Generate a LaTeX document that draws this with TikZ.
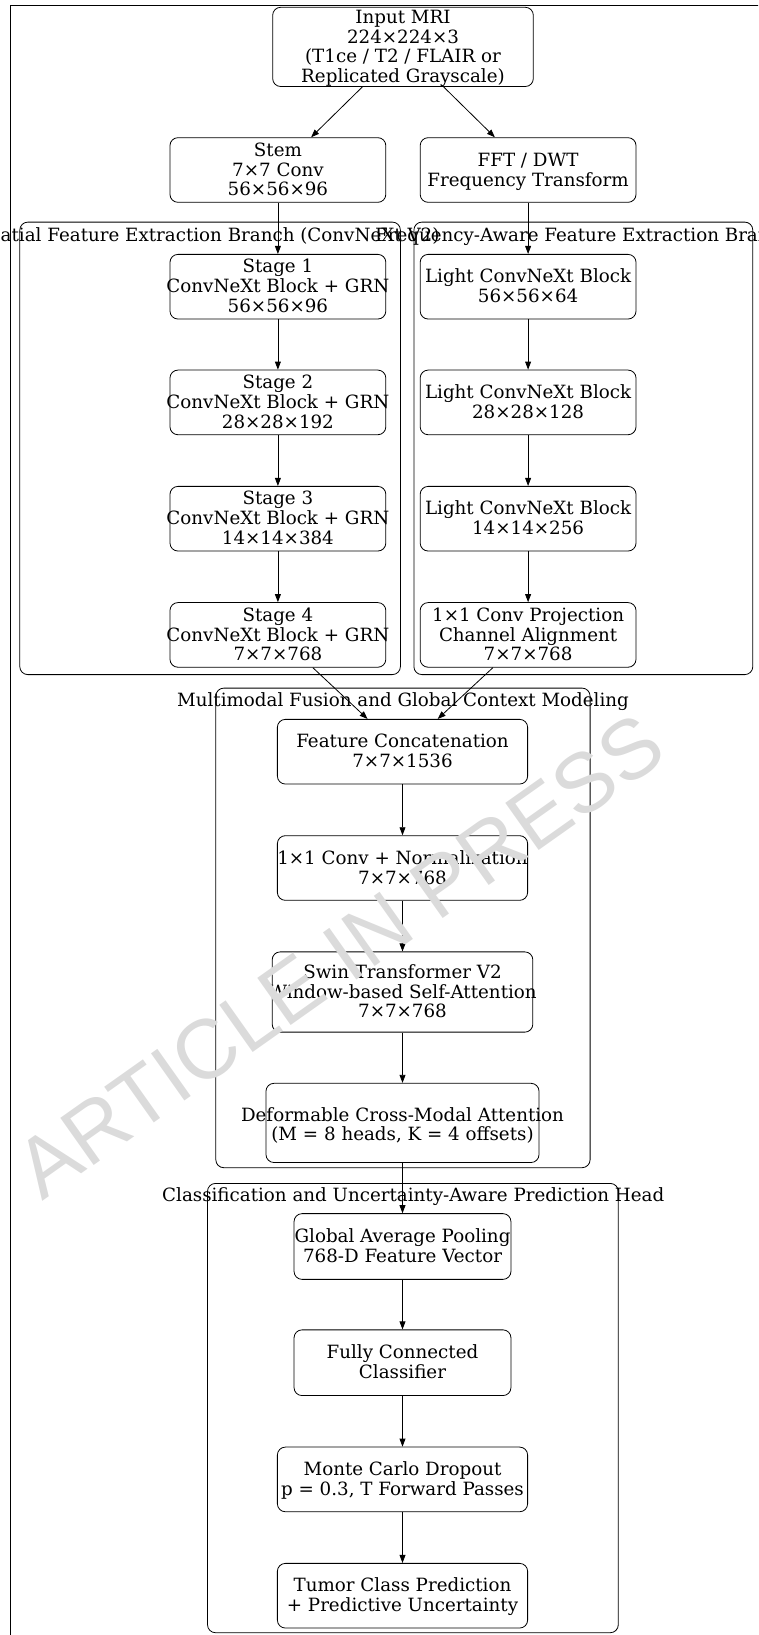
\documentclass[tikz,border=0pt]{standalone}
\usepackage{fontspec}
\setmainfont{DejaVu Serif}
\newfontfamily\markfont{Liberation Sans}
\usetikzlibrary{arrows.meta}
\newcommand{\boxtext}[1]{\makebox[0pt]{\raisebox{-1.6pt}[\height][\depth]{\begin{tabular}{@{}c@{}}#1\end{tabular}}}}

\begin{document}
\begin{tikzpicture}[x=0.75pt, y=-0.75pt,
  font=\fontsize{13.7}{14.85}\selectfont,
  blk/.style={draw, line width=0.6pt, rounded corners=6pt, inner sep=0pt,
              minimum width=#1, minimum height=48.5pt},
  blk/.default=161.9pt,
  cluster/.style={draw, line width=0.6pt, rounded corners=6pt},
  arr/.style={-{Triangle[length=6pt,width=4.4pt]}, line width=0.6pt}]
  \useasboundingbox (0,0) rectangle (758,1635);
  \clip (0,0) rectangle (758,1635);

  % Cadre
  \draw[line width=0.6pt] (10.4,1640) -- (10.4,5.2) -- (760,5.2);

  % Groupes
  \draw[cluster] (19.8,222.1) rectangle (400.4,674.6);
  \draw[cluster] (413.9,222.1) rectangle (752.8,674.6);
  \draw[cluster] (215.8,688.1) rectangle (590.1,1167.7);
  \draw[cluster] (207.5,1183.4) rectangle (618.3,1632.7);
  \node (spatiallbl) at (208,236.6) {Spatial Feature Extraction Branch (ConvNeXt V2)};
  \node (freqlbl) at (583.4,236.6) {Frequency-Aware Feature Extraction Branch};
  \node (fusionlbl) at (403,701.6) {Multimodal Fusion and Global Context Modeling};
  \node (headlbl) at (413.2,1196.8) {Classification and Uncertainty-Aware Prediction Head};

  % Entrée
  \node[blk=195.5pt, minimum height=59.4pt] (input) at (403,46.9)
      {\boxtext{Input MRI\\224×224×3\\(T1ce / T2 / FLAIR or\\Replicated Grayscale)}};
  \node[blk] (stem) at (277.9,170) {\boxtext{Stem\\7×7 Conv\\56×56×96}};
  \node[blk] (fft) at (528.1,170) {\boxtext{FFT / DWT\\Frequency Transform}};

  % Branche spatiale
  \node[blk] (st1) at (277.9,286.7) {\boxtext{Stage 1\\ConvNeXt Block + GRN\\56×56×96}};
  \node[blk] (st2) at (277.9,402.4) {\boxtext{Stage 2\\ConvNeXt Block + GRN\\28×28×192}};
  \node[blk] (st3) at (277.9,518.7) {\boxtext{Stage 3\\ConvNeXt Block + GRN\\14×14×384}};
  \node[blk] (st4) at (277.9,634.9) {\boxtext{Stage 4\\ConvNeXt Block + GRN\\7×7×768}};

  % Branche fréquentielle
  \node[blk] (lt1) at (528.1,286.7) {\boxtext{Light ConvNeXt Block\\56×56×64}};
  \node[blk] (lt2) at (528.1,402.4) {\boxtext{Light ConvNeXt Block\\28×28×128}};
  \node[blk] (lt3) at (528.1,518.7) {\boxtext{Light ConvNeXt Block\\14×14×256}};
  \node[blk] (proj) at (528.1,634.9)
      {\boxtext{1×1 Conv Projection\\Channel Alignment\\7×7×768}};

  % Fusion
  \node[blk=187.7pt] (concat) at (402.5,751.7) {\boxtext{Feature Concatenation\\7×7×1536}};
  \node[blk=187.7pt] (convn) at (402.5,868) {\boxtext{1×1 Conv + Normalization\\7×7×768}};
  \node[blk=195.5pt, minimum height=60.2pt] (swin) at (402.5,992)
      {\boxtext{Swin Transformer V2\\Window-based Self-Attention\\7×7×768}};
  \node[blk=204.8pt, minimum height=59.4pt] (deform) at (402.5,1122.9)
      {\raisebox{-1.5pt}[\height][\depth]{\boxtext{Deformable Cross-Modal Attention\\(M = 8 heads, K = 4 offsets)}}};

  % Tête de classification
  \node[blk=162.7pt, minimum height=49.3pt] (gap) at (402.5,1246.5)
      {\boxtext{Global Average Pooling\\768-D Feature Vector}};
  \node[blk=162.7pt, minimum height=49.3pt] (fc) at (402.5,1362.7)
      {\boxtext{Fully Connected\\Classifier}};
  \node[blk=187.7pt] (mcd) at (402.5,1479.4)
      {\boxtext{Monte Carlo Dropout\\p = 0.3, T Forward Passes}};
  \node[blk=187.7pt] (tumor) at (402.5,1595.7)
      {\boxtext{Tumor Class Prediction\\+ Predictive Uncertainty}};

  % Liaisons
  \draw[arr] (input) -- (stem);
  \draw[arr] (input) -- (fft);
  \draw[arr] (stem) -- (st1);
  \draw[arr] (st1) -- (st2);
  \draw[arr] (st2) -- (st3);
  \draw[arr] (st3) -- (st4);
  \draw[arr] (fft) -- (lt1);
  \draw[arr] (lt1) -- (lt2);
  \draw[arr] (lt2) -- (lt3);
  \draw[arr] (lt3) -- (proj);
  \draw[arr] (st4) -- (concat);
  \draw[arr] (proj) -- (concat);
  \draw[arr] (concat) -- (convn);
  \draw[arr] (convn) -- (swin);
  \draw[arr] (swin) -- (deform);
  \draw[arr] (deform) -- (gap);
  \draw[arr] (gap) -- (fc);
  \draw[arr] (fc) -- (mcd);
  \draw[arr] (mcd) -- (tumor);

  % Filigrane
  \node[font=\markfont\fontsize{63}{63}\selectfont, text=black!14, rotate=35.3]
      (mark) at (339.9,956) {ARTICLE IN PRESS};
\end{tikzpicture}
\end{document}
